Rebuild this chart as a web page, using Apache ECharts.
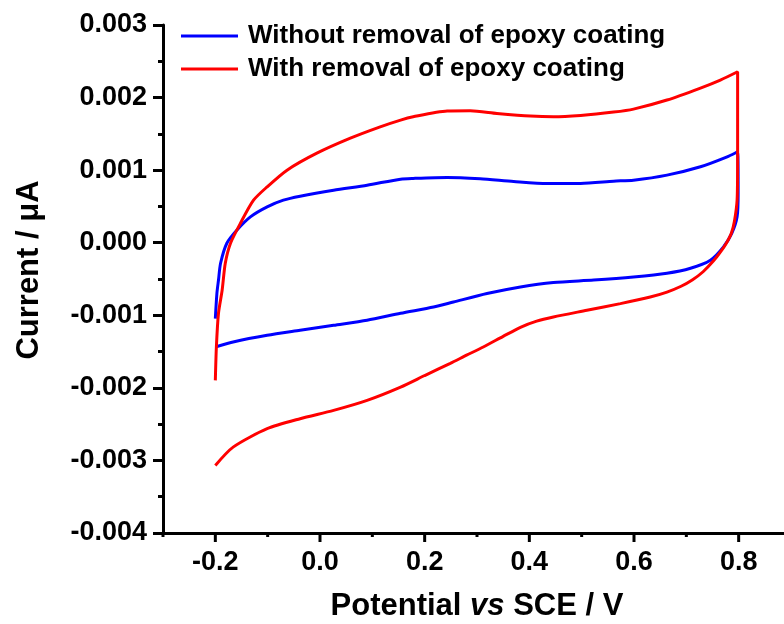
<!DOCTYPE html>
<html>
<head>
<meta charset="utf-8">
<script src="https://cdn.jsdelivr.net/npm/echarts@6/dist/echarts.min.js"></script>
<style>html,body{margin:0;padding:0;background:#fff;}#c{width:784px;height:624px;}</style>
</head>
<body>
<div id="c"></div>
<script>
// Potential (V) and current (A)
const seriesNames = ['Without removal of epoxy coating', 'With removal of epoxy coating'];
const potentialBlue = [-0.200, -0.197, -0.194, -0.190, -0.178, -0.159, -0.133, -0.101, -0.070, -0.038, 0.026, 0.090, 0.154, 0.178, 0.243, 0.306, 0.370, 0.434, 0.498, 0.561, 0.599, 0.663, 0.727, 0.778, 0.798,
  0.799, 0.797, 0.787, 0.771, 0.746, 0.708, 0.663, 0.599, 0.523, 0.446, 0.383, 0.319, 0.255, 0.217, 0.154, 0.090, 0.026, -0.038, -0.101, -0.166, -0.200];
const currentBlue = [-0.001046, -0.000697, -0.000517, -0.000283, -0.000007, 0.000172, 0.000356, 0.000494, 0.000586, 0.000641, 0.000724, 0.000793, 0.000876, 0.000886, 0.000899, 0.000880, 0.000844, 0.000817, 0.000817, 0.000848, 0.000862, 0.000931, 0.001046, 0.001183, 0.001252,
  0.000683, 0.000356, 0.000131, -0.000058, -0.000241, -0.000352, -0.000421, -0.000472, -0.000515, -0.000549, -0.000610, -0.000701, -0.000817, -0.000886, -0.000972, -0.001069, -0.001138, -0.001207, -0.001276, -0.001368, -0.001437];
const potentialRed = [-0.200, -0.198, -0.194, -0.187, -0.181, -0.171, -0.152, -0.127, -0.101, -0.063, -0.006, 0.058, 0.115, 0.154, 0.178, 0.243, 0.287, 0.338, 0.402, 0.446, 0.498, 0.561, 0.599, 0.663, 0.727, 0.765, 0.798,
  0.798, 0.797, 0.792, 0.786, 0.777, 0.766, 0.752, 0.732, 0.712, 0.690, 0.663, 0.631, 0.574, 0.510, 0.446, 0.414, 0.383, 0.350, 0.312, 0.280, 0.249, 0.200, 0.154, 0.090, 0.026, -0.038, -0.101, -0.166, -0.200];
const currentRed = [-0.001897, -0.001437, -0.000972, -0.000655, -0.000283, -0.000007, 0.000269, 0.000586, 0.000770, 0.001000, 0.001234, 0.001441, 0.001597, 0.001690, 0.001735, 0.001814, 0.001818, 0.001782, 0.001745, 0.001735, 0.001754, 0.001800, 0.001841, 0.001966, 0.002131, 0.002241, 0.002356,
  0.001138, 0.000586, 0.000300, 0.000130, 0.000000, -0.000120, -0.000250, -0.000400, -0.000510, -0.000600, -0.000680, -0.000748, -0.000839, -0.000931, -0.001023, -0.001080, -0.001165, -0.001290, -0.001437, -0.001550, -0.001662, -0.001830, -0.001989, -0.002172, -0.002310, -0.002425, -0.002563, -0.002817, -0.003069];
// x axis: full range -0.3..0.9, labelled ticks every 0.2 starting at -0.2
const xMin = -0.3, xMax = 0.9, xLabelMin = -0.2, xLabelMax = 0.8, xStep = 0.2;
const yMin = -0.004, yMax = 0.003, yStep = 0.001;
const xMajorTicks = [-0.2, 0.0, 0.2, 0.4, 0.6, 0.8];
const xMinorTicks = [-0.3, -0.1, 0.1, 0.3, 0.5, 0.7];

const zip = (xs, ys) => xs.map((x, i) => [x, ys[i]]);
const FONT = '"Liberation Sans", Arial, sans-serif';
const G = {left: 163, top: 25, width: 628, height: 508};
const pxPerUnit = G.width / (xMax - xMin);
const TICK = {color: '#000', width: 3};

const chart = echarts.init(document.getElementById('c'), null, {renderer: 'canvas'});
chart.setOption({
  backgroundColor: '#ffffff',
  animation: false,
  grid: [
    {left: G.left, top: G.top, width: G.width, height: G.height, containLabel: false, outerBoundsMode: 'none'},
    {left: G.left + (xLabelMin - xMin) * pxPerUnit, top: G.top, width: (xLabelMax - xLabelMin) * pxPerUnit, height: G.height, containLabel: false, outerBoundsMode: 'none'}
  ],
  legend: {
    orient: 'vertical', left: 181, top: 23, padding: 0, itemWidth: 57, itemHeight: 3, itemGap: 7, icon: 'rect',
    data: seriesNames,
    textStyle: {fontFamily: FONT, fontWeight: 'bold', fontSize: 26, color: '#000', padding: [0, 0, 0, 5]}
  },
  xAxis: [{
    gridIndex: 0, type: 'value', min: xMin, max: xMax, interval: xStep,
    name: 'Potential {i|vs} SCE / V', nameLocation: 'middle', nameGap: 58,
    nameTextStyle: {fontFamily: FONT, fontWeight: 'bold', fontSize: 31, color: '#000',
      rich: {i: {fontFamily: FONT, fontWeight: 'bold', fontStyle: 'italic', fontSize: 31, color: '#000'}}},
    axisLine: {show: true, onZero: false, lineStyle: {color: '#000', width: 3}},
    axisTick: {show: false},
    axisLabel: {show: false},
    splitLine: {show: false}
  }, {
    // tick labels at -0.2 ... 0.8
    gridIndex: 1, type: 'value', min: xLabelMin, max: xLabelMax, interval: xStep,
    axisLine: {show: false},
    axisTick: {show: false},
    axisLabel: {show: true, margin: 16, fontFamily: FONT, fontWeight: 'bold', fontSize: 27, color: '#000',
      formatter: v => (Math.abs(v) < 1e-9 ? 0 : v).toFixed(1)},
    splitLine: {show: false}
  }],
  yAxis: [{
    gridIndex: 0, type: 'value', min: yMin, max: yMax, interval: yStep,
    name: 'Current / μA', nameLocation: 'middle', nameGap: 118, nameRotate: 90,
    nameTextStyle: {fontFamily: FONT, fontWeight: 'bold', fontSize: 31, color: '#000', padding: [0, 0, 0, 18]},
    axisLine: {show: true, onZero: false, lineStyle: {color: '#000', width: 3}},
    axisTick: {show: true, inside: false, length: 10, lineStyle: TICK},
    minorTick: {show: true, splitNumber: 2, length: 5, lineStyle: TICK},
    axisLabel: {margin: 16, fontFamily: FONT, fontWeight: 'bold', fontSize: 27, color: '#000',
      formatter: v => (Math.abs(v) < 1e-9 ? 0 : v).toFixed(3)},
    splitLine: {show: false}
  }, {gridIndex: 1, type: 'value', min: 1, max: 2, show: false}],
  series: [{
    name: seriesNames[0], type: 'line', xAxisIndex: 0, yAxisIndex: 0, data: zip(potentialBlue, currentBlue),
    symbol: 'none', smooth: 0.25, color: '#0000ff', lineStyle: {color: '#0000ff', width: 3}
  }, {
    name: seriesNames[1], type: 'line', xAxisIndex: 0, yAxisIndex: 0, data: zip(potentialRed, currentRed),
    symbol: 'none', smooth: 0.25, color: '#ff0000', lineStyle: {color: '#ff0000', width: 3}
  }]
});

// x-axis tick marks: positions come from the chart's own x scale
const tickSpecs = xMajorTicks.map(v => ({v: v, len: 9})).concat(xMinorTicks.map(v => ({v: v, len: 4})));
const tickGraphics = tickSpecs.map(t => {
  const p = chart.convertToPixel({xAxisIndex: 0, yAxisIndex: 0}, [t.v, yMin]);
  return {
    type: 'line', silent: true, z: 1000,
    shape: {x1: p[0], y1: p[1], x2: p[0], y2: p[1] + t.len},
    style: {stroke: '#000', lineWidth: 3}
  };
});
chart.setOption({graphic: {elements: tickGraphics}});
</script>
</body>
</html>
